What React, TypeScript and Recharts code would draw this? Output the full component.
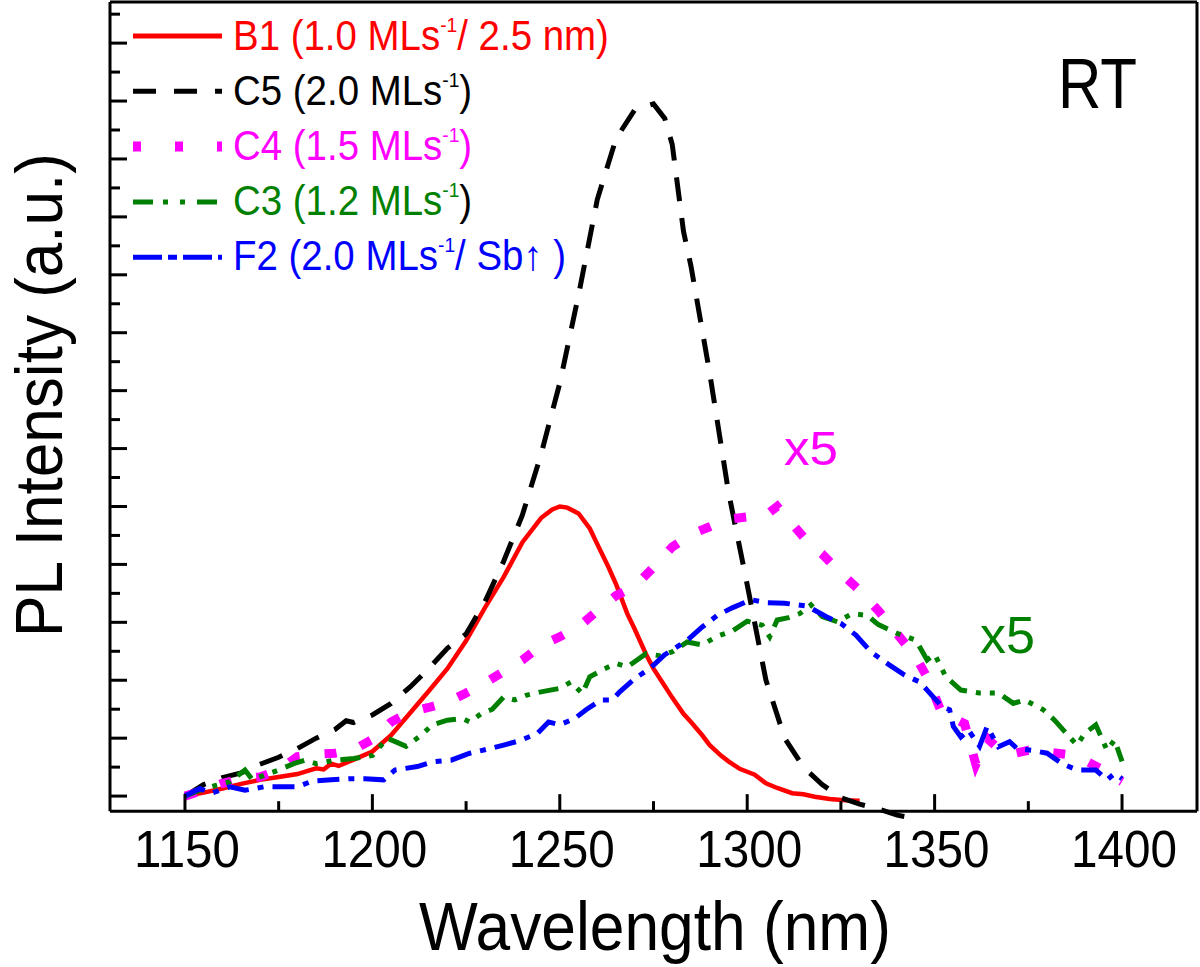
import { LineChart, Line, XAxis, YAxis, ReferenceLine, Legend } from "recharts";

const FONT = "'Liberation Sans', Arial, Helvetica, sans-serif";

// B1 (1.0 MLs-1 / 2.5 nm)
const b1Wl = [1150, 1155, 1160, 1165, 1170, 1175, 1180, 1183, 1185, 1187, 1189, 1191, 1195, 1200, 1205, 1210, 1215, 1220, 1225, 1230, 1235, 1240, 1245, 1248, 1250, 1252, 1255, 1258, 1260, 1263, 1265, 1268, 1270, 1273, 1275, 1278, 1280, 1283, 1285, 1288, 1290, 1293, 1295, 1298, 1300, 1302, 1305, 1308, 1312, 1315, 1318, 1322, 1326, 1330];
const b1Int = [0, 0.06, 0.13, 0.21, 0.28, 0.33, 0.38, 0.44, 0.48, 0.46, 0.56, 0.52, 0.63, 0.77, 1.05, 1.43, 1.81, 2.2, 2.68, 3.25, 3.78, 4.38, 4.8, 4.95, 5.0, 4.98, 4.88, 4.62, 4.35, 3.95, 3.66, 3.15, 2.88, 2.45, 2.2, 1.9, 1.7, 1.42, 1.28, 1.05, 0.88, 0.7, 0.6, 0.47, 0.42, 0.37, 0.22, 0.14, 0.05, 0.03, -0.01, -0.05, -0.07, -0.08];

// C5 (2.0 MLs-1)
const c5Wl = [1150, 1155, 1160, 1165, 1170, 1175, 1180, 1185, 1190, 1193, 1195, 1200, 1205, 1210, 1215, 1220, 1225, 1230, 1235, 1240, 1245, 1250, 1255, 1260, 1265, 1270, 1275, 1278, 1280, 1283, 1285, 1290, 1295, 1300, 1305, 1310, 1315, 1320, 1325, 1330, 1335, 1340, 1345];
const c5Int = [0, 0.2, 0.32, 0.4, 0.55, 0.67, 0.82, 1.0, 1.15, 1.3, 1.27, 1.4, 1.6, 1.88, 2.2, 2.55, 2.8, 3.35, 4.05, 4.85, 5.9, 7.13, 8.65, 10.3, 11.35, 11.85, 11.95, 11.7, 11.25, 9.75, 9.15, 7.3, 5.25, 3.65, 2.0, 1.0, 0.5, 0.2, -0.03, -0.14, -0.22, -0.33, -0.39];

// C4 (1.5 MLs-1), x5
const c4Wl = [1150, 1155, 1160, 1165, 1170, 1175, 1180, 1185, 1190, 1195, 1200, 1205, 1210, 1215, 1220, 1225, 1230, 1235, 1240, 1245, 1250, 1255, 1260, 1265, 1270, 1275, 1280, 1285, 1290, 1295, 1300, 1305, 1308, 1312, 1316, 1320, 1325, 1330, 1335, 1340, 1345, 1348, 1352, 1355, 1358, 1361, 1364, 1366, 1370, 1375, 1380, 1385, 1390, 1395, 1400];
const c4Int = [0, 0.1, 0.22, 0.3, 0.33, 0.45, 0.68, 0.72, 0.74, 0.8, 0.98, 1.28, 1.45, 1.53, 1.62, 1.78, 1.95, 2.15, 2.35, 2.6, 2.75, 2.92, 3.2, 3.46, 3.62, 3.95, 4.3, 4.52, 4.65, 4.78, 4.82, 4.85, 5.0, 4.7, 4.4, 4.18, 3.85, 3.55, 3.2, 2.8, 2.4, 2.05, 1.42, 1.35, 1.25, 0.55, 1.0, 0.88, 0.72, 0.79, 0.76, 0.72, 0.62, 0.45, 0.25];

// C3 (1.2 MLs-1), x5
const c3Wl = [1150, 1154, 1158, 1162, 1166, 1168, 1172, 1175, 1179, 1182, 1185, 1190, 1195, 1200, 1204, 1209, 1213, 1216, 1220, 1224, 1226, 1229, 1232, 1235, 1238, 1241, 1245, 1250, 1253, 1256, 1258, 1262, 1265, 1268, 1273, 1277, 1280, 1284, 1288, 1292, 1296, 1300, 1304, 1306, 1308, 1311, 1314, 1317, 1320, 1324, 1328, 1332, 1335, 1340, 1345, 1348, 1350, 1353, 1357, 1362, 1367, 1371, 1374, 1379, 1382, 1386, 1388, 1390, 1393, 1396, 1398, 1400];
const c3Int = [0, 0.1, 0.18, 0.25, 0.45, 0.28, 0.38, 0.45, 0.56, 0.62, 0.56, 0.62, 0.65, 0.7, 1.0, 0.86, 1.05, 1.23, 1.31, 1.34, 1.28, 1.42, 1.5, 1.71, 1.66, 1.74, 1.8, 1.86, 1.97, 1.77, 2.06, 2.2, 2.29, 2.23, 2.46, 2.42, 2.49, 2.66, 2.61, 2.76, 2.85, 3.02, 2.95, 2.75, 3.04, 3.08, 3.15, 3.3, 3.1, 3.01, 3.15, 3.12, 2.96, 2.81, 2.69, 2.35, 2.45, 2.06, 1.83, 1.78, 1.78, 1.6, 1.66, 1.49, 1.31, 1.02, 0.88, 1.08, 1.23, 0.79, 0.97, 0.6];

// F2 (2.0 MLs-1 / Sb up)
const f2Wl = [1150, 1154, 1157, 1162, 1166, 1171, 1175, 1180, 1184, 1189, 1194, 1198, 1203, 1206, 1212, 1216, 1221, 1226, 1230, 1235, 1239, 1244, 1247, 1250, 1254, 1257, 1261, 1264, 1266, 1270, 1274, 1278, 1284, 1288, 1292, 1296, 1301, 1305, 1310, 1316, 1321, 1325, 1329, 1333, 1338, 1342, 1346, 1348, 1352, 1354, 1355, 1357, 1359, 1362, 1364, 1367, 1370, 1372, 1376, 1380, 1384, 1388, 1393, 1396, 1398, 1400];
const f2Int = [0, 0.13, 0.05, 0.16, 0.1, 0.16, 0.16, 0.16, 0.26, 0.28, 0.3, 0.3, 0.28, 0.45, 0.51, 0.59, 0.62, 0.74, 0.8, 0.88, 0.95, 1.08, 1.28, 1.23, 1.34, 1.49, 1.66, 1.66, 1.8, 2.03, 2.2, 2.44, 2.69, 2.92, 3.12, 3.25, 3.39, 3.34, 3.33, 3.28, 3.1, 2.98, 2.78, 2.49, 2.26, 2.09, 1.97, 1.83, 1.54, 1.49, 1.2, 1.02, 1.14, 0.86, 1.2, 0.85, 0.94, 0.82, 0.79, 0.74, 0.56, 0.45, 0.45, 0.28, 0.39, 0.3];

const xTicks = [1150, 1175, 1200, 1225, 1250, 1275, 1300, 1325, 1350, 1375, 1400];
const yTicks = [0, 0.5, 1, 1.5, 2, 2.5, 3, 3.5, 4, 4.5, 5, 5.5, 6, 6.5, 7, 7.5, 8, 8.5, 9, 9.5, 10, 10.5, 11, 11.5, 12, 12.5, 13, 13.5];
const xMin = 1130;
const xMax = 1420;
// the frame's bottom edge sits at axisLevel; the plot runs a little lower so the C5 tail can dip below it
const axisLevel = -0.26;
const yMin = -0.39;
const yMax = 13.71;
const PX_PER_UNIT = 57.92;
const AXIS_LIFT = (axisLevel - yMin) * PX_PER_UNIT;

const zip = (wl: number[], v: number[]) => wl.map((x, i) => ({ x, y: v[i] }));

const series = [
  { id: "B1", data: zip(b1Wl, b1Int), color: "#ff0000", width: 4.5, dash: undefined, legendDash: undefined, legendWidth: 5, text: ["B1 (1.0 MLs", "-1", "/ 2.5 nm)"], tail: "#ff0000" },
  { id: "C5", data: zip(c5Wl, c5Int), color: "#000000", width: 5, dash: "24 17", legendDash: "23 18", legendWidth: 5, text: ["C5 (2.0 MLs", "-1", ")"], tail: "#000000" },
  { id: "C4", data: zip(c4Wl, c4Int), color: "#ff00ff", width: 9, dash: "12 25", legendDash: "8 34", legendWidth: 10, text: ["C4 (1.5 MLs", "-1", ")"], tail: "#ff00ff" },
  { id: "C3", data: zip(c3Wl, c3Int), color: "#008000", width: 5, dash: "20 9 5 9 5 9", legendDash: "20 10 5 12 5 12", legendWidth: 5, text: ["C3 (1.2 MLs", "-1", ")"], tail: "#000000" },
  { id: "F2", data: zip(f2Wl, f2Int), color: "#0000ff", width: 5, dash: "22 9 6 9", legendDash: "29 6 9 6", legendWidth: 5, text: ["F2 (2.0 MLs", "-1", "/ Sb\u2191 )"], tail: "#0000ff" },
];

const YTick = (props: any) => {
  const { x, y, payload } = props;
  const major = Number.isInteger(payload.value);
  return <line x1={x} x2={x + (major ? 17 : 10)} y1={y} y2={y} stroke="#000" strokeWidth={3} />;
};

const XTick = (props: any) => {
  const { x, payload } = props;
  const y = props.y - AXIS_LIFT;
  const v = payload.value;
  const major = v % 50 === 0;
  return (
    <g>
      <line x1={x} x2={x} y1={y} y2={y - (major ? 17 : 10)} stroke="#000" strokeWidth={3} />
      {major && (
        <text x={x + 2} y={y + 56} textAnchor="middle" fontSize={52} fontFamily={FONT} fill="#000" textLength={106} lengthAdjust="spacingAndGlyphs">
          {v}
        </text>
      )}
    </g>
  );
};

const LegendBox = () => (
  <svg width={700} height={300} style={{ display: "block" }}>
    {series.map((s, i) => {
      const ly = 36 + i * 55.3;
      const by = 50 + i * 55;
      return (
        <g key={s.id}>
          <line x1={133} x2={222} y1={ly} y2={ly} stroke={s.color} strokeWidth={s.legendWidth} strokeDasharray={s.legendDash} />
          <g transform={`translate(233 ${by}) scale(0.915 1)`}>
            <text x={0} y={0} fontSize={42} fontFamily={FONT} fill={s.color}>
              {s.text[0]}
              <tspan dy={-18} fontSize={21}>{s.text[1]}</tspan>
              <tspan dy={18} fill={s.tail}>{s.text[2]}</tspan>
            </text>
          </g>
        </g>
      );
    })}
  </svg>
);

export default function App() {
  return (
    <div style={{ position: "absolute", left: 0, top: 0, width: 1200, height: 967, background: "#fff" }}>
      <LineChart width={1200} height={967} margin={{ top: 2, right: 3, left: 0, bottom: 0 }}>
        <XAxis
          type="number"
          dataKey="x"
          domain={[xMin, xMax]}
          ticks={xTicks}
          interval={0}
          tickSize={0}
          tickMargin={0}
          tickLine={false}
          tick={<XTick />}
          height={967 - 2 - (yMax - yMin) * PX_PER_UNIT}
          axisLine={false}
        />
        <YAxis
          type="number"
          dataKey="y"
          domain={[yMin, yMax]}
          ticks={yTicks}
          interval={0}
          tickSize={0}
          tickMargin={0}
          tickLine={false}
          tick={<YTick />}
          width={110}
          axisLine={false}
        />
        <ReferenceLine y={axisLevel} stroke="#000" strokeWidth={3} />
        <ReferenceLine y={yMax} stroke="#000" strokeWidth={3} />
        <ReferenceLine segment={[{ x: xMin, y: axisLevel }, { x: xMin, y: yMax }]} stroke="#000" strokeWidth={3} />
        <ReferenceLine segment={[{ x: xMax, y: axisLevel }, { x: xMax, y: yMax }]} stroke="#000" strokeWidth={3} />
        {series.map((s) => (
          <Line
            key={s.id}
            data={s.data}
            dataKey="y"
            type="linear"
            stroke={s.color}
            strokeWidth={s.width}
            strokeDasharray={s.dash}
            dot={false}
            activeDot={false}
            isAnimationActive={false}
          />
        ))}
        <Legend
          layout="horizontal"
          verticalAlign="middle"
          align="center"
          content={() => <LegendBox />}
          wrapperStyle={{ left: 0, top: 0, width: 700, height: 300 }}
        />
        <text transform="translate(62 395) rotate(-90)" textAnchor="middle" fontSize={66} fontFamily={FONT} fill="#000" textLength={484} lengthAdjust="spacingAndGlyphs">
          PL Intensity (a.u.)
        </text>
        <text x={655} y={950} textAnchor="middle" fontSize={68} fontFamily={FONT} fill="#000" textLength={472} lengthAdjust="spacingAndGlyphs">
          Wavelength (nm)
        </text>
        <text x={1058} y={108} fontSize={70} fontFamily={FONT} fill="#000" textLength={79} lengthAdjust="spacingAndGlyphs">
          RT
        </text>
        <text x={784} y={465} fontSize={48} fontFamily={FONT} fill="#ff00ff" textLength={54} lengthAdjust="spacingAndGlyphs">
          x5
        </text>
        <text x={980} y={653} fontSize={52} fontFamily={FONT} fill="#008000" textLength={55} lengthAdjust="spacingAndGlyphs">
          x5
        </text>
      </LineChart>
    </div>
  );
}
